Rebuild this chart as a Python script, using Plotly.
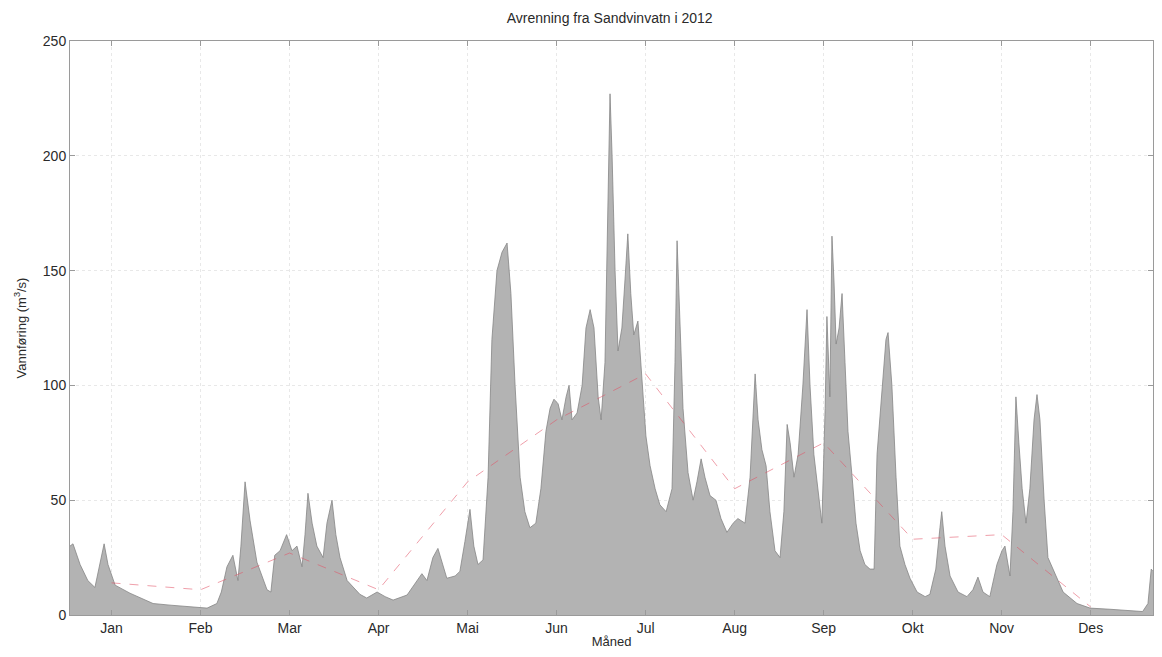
import plotly.graph_objects as go

# Daily discharge (day of year, m3/s)
days = [1, 2, 4.4, 7, 9.4, 11, 12.5, 13.8, 16.2, 21.2, 29, 34.7, 47.2, 50.5, 52, 53.9, 55.9, 57.6, 58.6, 60,
        61.7, 64, 67.4, 68.7, 70, 71.8, 74, 75.8, 77.5, 79.2, 80.2, 81.2, 82.6, 84.2, 86.3, 87.6, 89.3, 90.6,
        92, 94.4, 98.7, 101, 104.5, 107.2, 109.9, 114.6, 117.3, 119.6, 121.3, 123.3, 125, 126.7, 128, 130.8,
        132.4, 134.1, 135.8, 137.1, 138.5, 140.2, 141.9, 143.2, 144.9, 146.6, 148.3, 149.6, 151, 152.7, 154.3,
        156, 158, 159.7, 161.4, 162.8, 164.1, 165.5, 166.8, 168.2, 169.2, 170.2, 171.9, 173.6, 174.9, 176.3,
        177.6, 179, 180, 181.3, 182.3, 183, 183.7, 184.7, 185.7, 187, 188, 189, 190, 191, 192.4, 193.8, 195.1,
        196.5, 198.2, 199.8, 201.9, 203.9, 204.9, 205.6, 206.6, 207.6, 209.3, 211, 212.3, 213.7, 215, 216.7,
        218.7, 220.4, 222.4, 224.5, 226.1, 228.5, 230.2, 231.2, 231.9, 232.9, 234.2, 235.6, 236.9, 238.6,
        240.3, 241.6, 242.7, 243.7, 245, 246.4, 248, 249.4, 250.4, 251.7, 253.1, 254.4, 255.5, 256.1, 257.1,
        257.8, 258.5, 259.2, 260.2, 261.2, 262.2, 263.2, 264.6, 265.9, 267.3, 268.9, 270.6, 272, 273, 274.7,
        276, 276.7, 278, 279.4, 280.7, 282.4, 284.1, 286.5, 289.2, 290.8, 292.8, 294.2, 294.8, 295.9, 297.6,
        300.3, 303.3, 305.3, 307, 308.7, 311, 313.4, 315.1, 316.1, 317.8, 318.8, 319.8, 320.8, 321.9, 323.2,
        324.5, 325.9, 326.9, 327.9, 329.3, 330.6, 333, 335.7, 340.4, 344.8, 351.5, 358.3, 362.5, 364.3, 365.4, 366]
flow = [30, 31, 22, 15, 12, 22, 31, 22, 13, 9.5, 5, 4.3, 3, 5, 10, 21, 26, 15, 30, 58,
        41, 23, 11, 10, 26, 28, 35, 28, 30, 21, 35, 53, 40, 30, 25, 40, 50, 35,
        25, 15, 9, 7.4, 10, 8, 6.5, 8.7, 14, 18, 15, 25, 29, 22, 16, 17,
        19, 32, 46, 30, 22, 24, 60, 120, 150, 158, 162, 140, 100, 60, 45,
        38, 40, 55, 80, 90, 94, 92, 85, 95, 100, 85, 88, 100, 125, 133,
        125, 95, 85, 110, 180, 227, 200, 150, 115, 125, 145, 166, 140, 122, 128, 100, 78,
        65, 55, 48, 45, 55, 110, 163, 130, 90, 62, 50, 58, 68, 60, 52,
        50, 42, 36, 40, 42, 40, 60, 90, 105, 85, 72, 65, 45, 28,
        25, 45, 83, 75, 60, 70, 100, 133, 100, 70, 55, 40, 90, 130, 95,
        165, 145, 118, 125, 140, 110, 80, 60, 40, 28, 22, 20, 20, 70, 100,
        120, 123, 100, 60, 30, 22, 16, 10, 8, 9, 20, 38, 45, 30, 17,
        10, 8, 11, 16.5, 10, 8, 22, 28, 30, 17, 45, 95, 75, 55, 40,
        55, 85, 96, 85, 50, 25, 18, 10, 5, 3, 2.5, 2, 1.5, 5, 20, 19]

# Monthly means, plotted at the month tick positions
month_days = [15, 45, 75, 105, 135, 165, 195, 225, 255, 285, 315, 345]
month_labels = ["Jan", "Feb", "Mar", "Apr", "Mai", "Jun", "Jul", "Aug", "Sep", "Okt", "Nov", "Des"]
month_mean = [14, 11, 27, 11, 58, 85, 105, 55, 75, 33, 35, 3.5]

y_ticks = [0, 50, 100, 150, 200, 250]

font = "Liberation Sans, Arial, Helvetica, sans-serif"
txt = "#2a2a2a"

fig = go.Figure()
fig.add_trace(go.Scatter(
    x=days, y=flow, mode="lines", fill="tozeroy",
    fillcolor="#b3b3b3", line=dict(color="#858585", width=0.8),
    showlegend=False, hoverinfo="x+y"))
fig.add_trace(go.Scatter(
    x=month_days, y=month_mean, mode="lines",
    line=dict(color="rgba(225,80,100,0.55)", width=1, dash="dash"),
    showlegend=False))

axis_common = dict(
    showline=True, linecolor="#9a9a9a", linewidth=1, mirror="ticks",
    ticks="inside", ticklen=5, tickcolor="#9a9a9a",
    showgrid=True, gridcolor="#e8e8e8", griddash="dot", gridwidth=1,
    zeroline=False, tickfont=dict(family=font, size=14, color=txt))

fig.update_xaxes(range=[1, 366], tickvals=month_days, ticktext=month_labels,
                 title=dict(text="Måned", font=dict(family=font, size=13, color=txt), standoff=6),
                 **axis_common)
fig.update_yaxes(range=[0, 250], tickvals=y_ticks,
                 title=dict(text="Vannføring (m<sup>3</sup>/s)", font=dict(family=font, size=13, color=txt),
                            standoff=13),
                 **axis_common)

# the page body adds an 8 px margin, so the figure is 16 px smaller than the window
fig.update_layout(
    width=1146, height=641,
    margin=dict(l=62, r=1, t=33, b=34, autoexpand=False),
    paper_bgcolor="white", plot_bgcolor="white",
    title=dict(text="Avrenning fra Sandvinvatn i 2012", x=0.525, xanchor="center", y=0.985, yanchor="middle",
               font=dict(family=font, size=14, color=txt)),
)

fig.write_html("out.html")
